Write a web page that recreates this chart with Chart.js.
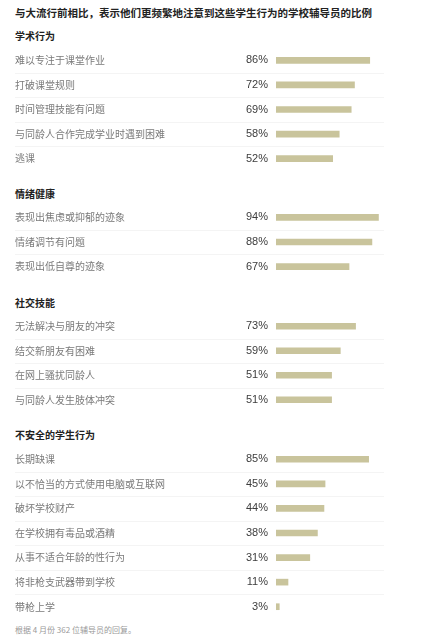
<!DOCTYPE html>
<html>
<head>
<meta charset="utf-8">
<script src="https://cdn.jsdelivr.net/npm/chart.js@4"></script>
<style>
  body { margin: 0; background: #fff; font-family: "Noto Sans CJK SC", sans-serif; }
  .wrap { position: relative; width: 429px; height: 640px; }
  .title { position: absolute; left: 15px; top: 6px; font-size: 10.5px; line-height: 14px; font-weight: bold; color: #222; white-space: nowrap; }
  .head { position: absolute; left: 15px; font-size: 10px; line-height: 14px; font-weight: bold; color: #222; }
  .note { position: absolute; left: 15px; top: 624px; font-size: 8px; line-height: 11px; color: #999; }
  canvas { position: absolute; left: 0; }
</style>
</head>
<body>
<div class="wrap">
  <div class="title">与大流行前相比，表示他们更频繁地注意到这些学生行为的学校辅导员的比例</div>
  <div class="head" style="top:29px">学术行为</div>
  <canvas id="academic" style="top:48px"></canvas>
  <div class="head" style="top:187px">情绪健康</div>
  <canvas id="emotional" style="top:205px"></canvas>
  <div class="head" style="top:296px">社交技能</div>
  <canvas id="social" style="top:314px"></canvas>
  <div class="head" style="top:428px">不安全的学生行为</div>
  <canvas id="unsafe" style="top:447px"></canvas>
  <div class="note">根据 4 月份 362 位辅导员的回复。</div>
</div>
<script>
const academicLabels = ['难以专注于课堂作业', '打破课堂规则', '时间管理技能有问题', '与同龄人合作完成学业时遇到困难', '逃课'];
const academicValues = [86, 72, 69, 58, 52];

const emotionalLabels = ['表现出焦虑或抑郁的迹象', '情绪调节有问题', '表现出低自尊的迹象'];
const emotionalValues = [94, 88, 67];

const socialLabels = ['无法解决与朋友的冲突', '结交新朋友有困难', '在网上骚扰同龄人', '与同龄人发生肢体冲突'];
const socialValues = [73, 59, 51, 51];

const unsafeLabels = ['长期缺课', '以不恰当的方式使用电脑或互联网', '破坏学校财产', '在学校拥有毒品或酒精', '从事不适合年龄的性行为', '将非枪支武器带到学校', '带枪上学'];
const unsafeValues = [85, 45, 44, 38, 31, 11, 3];

const rowH = 24.5;

// thin lines between rows
const rowLines = {
    id: 'rowLines',
    beforeDatasetsDraw(chart) {
        const ctx = chart.ctx;
        const y = chart.scales.y;
        ctx.save();
        ctx.strokeStyle = '#f4f4f4';
        ctx.lineWidth = 1;
        for (let i = 0; i < y.ticks.length - 1; i++) {
            const yy = Math.round((y.getPixelForTick(i) + y.getPixelForTick(i + 1)) / 2) + 0.5;
            ctx.beginPath();
            ctx.moveTo(15, yy);
            ctx.lineTo(384, yy);
            ctx.stroke();
        }
        ctx.restore();
    }
};

function fixAxis(width) {
    return (s) => {
        s.width = width;
        s.paddingTop = 0;
        s.paddingBottom = 0;
    };
}

function makeSection(id, labels, values) {
    const canvas = document.getElementById(id);
    canvas.width = 429;
    canvas.height = Math.round(labels.length * rowH);
    return new Chart(canvas, {
        type: 'bar',
        data: {
            labels: labels,
            datasets: [{
                data: values,
                backgroundColor: '#c9c49c',
                barThickness: 6,
                yAxisID: 'y'
            }]
        },
        plugins: [rowLines],
        options: {
            indexAxis: 'y',
            responsive: false,
            animation: false,
            layout: { padding: { left: 15, right: 44, top: 0, bottom: 0 } },
            plugins: { legend: { display: false }, tooltip: { enabled: false } },
            scales: {
                x: { display: false, min: 0, max: 100 },
                y: {
                    position: 'left',
                    weight: 2,
                    grid: { display: false, drawTicks: false },
                    border: { display: false },
                    ticks: {
                        autoSkip: false,
                        crossAlign: 'far',
                        padding: 0,
                        color: '#7a7a7a',
                        font: { family: 'Noto Sans CJK SC', size: 10 }
                    },
                    afterFit: fixAxis(217)
                },
                y2: {
                    type: 'category',
                    position: 'left',
                    weight: 1,
                    offset: true,
                    labels: values.map(v => v + '%'),
                    grid: { display: false, drawTicks: false },
                    border: { display: false },
                    ticks: {
                        autoSkip: false,
                        crossAlign: 'near',
                        padding: 8,
                        color: '#3d3d3d',
                        font: { family: 'Liberation Sans', size: 11 }
                    },
                    afterFit: fixAxis(44)
                }
            }
        }
    });
}

makeSection('academic', academicLabels, academicValues);
makeSection('emotional', emotionalLabels, emotionalValues);
makeSection('social', socialLabels, socialValues);
makeSection('unsafe', unsafeLabels, unsafeValues);
</script>
</body>
</html>
